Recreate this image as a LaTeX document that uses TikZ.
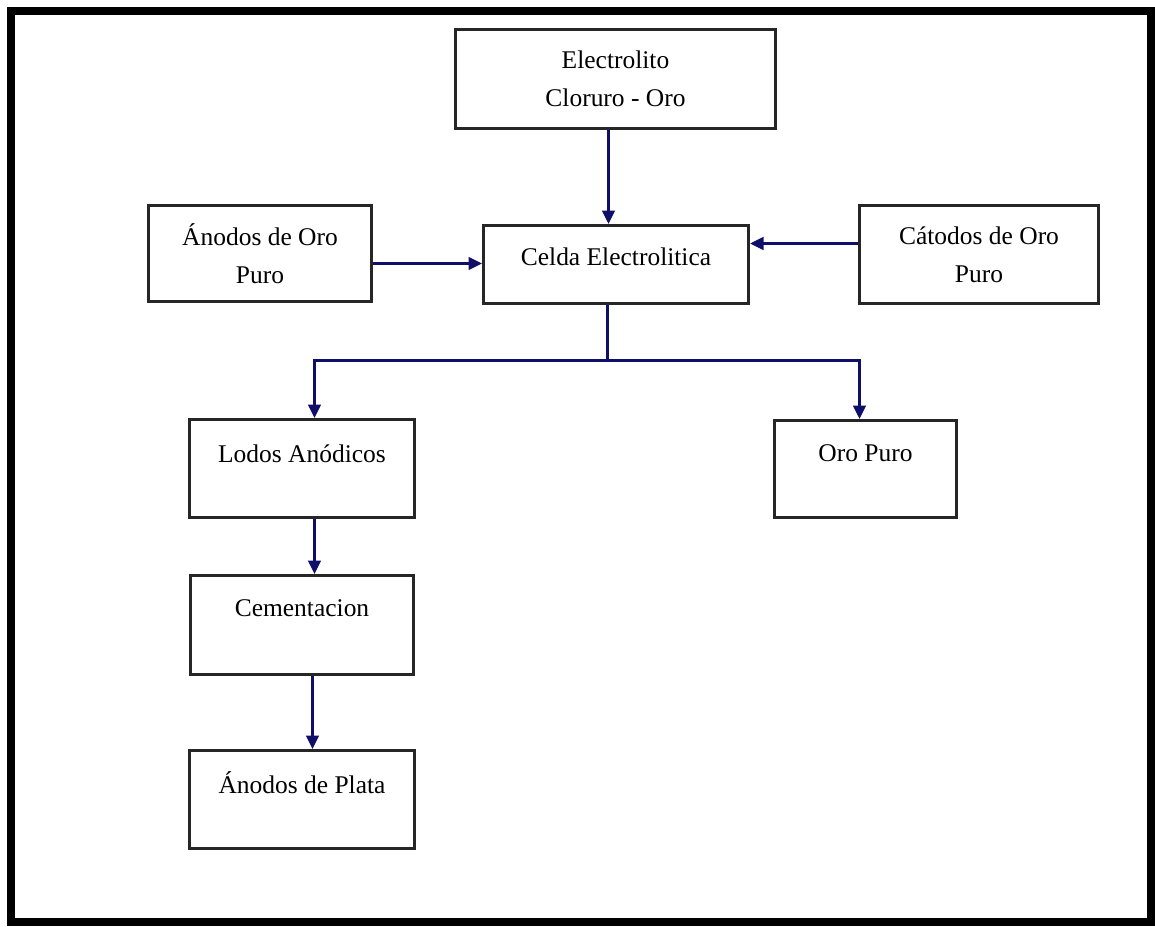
\documentclass[tikz,border=0pt]{standalone}
\usepackage{fontspec}
\setmainfont{Liberation Serif}
\usetikzlibrary{arrows.meta}

\begin{document}
\begin{tikzpicture}[x=0.02cm, y=-0.02cm,
  proc/.style={draw=black!85, line width=0.06cm, fill=white, inner xsep=0pt,
    inner ysep=0pt, anchor=north west, align=center,
    font=\fontsize{14.5}{21.6}\selectfont},
  flow/.style={draw={rgb,255:red,15;green,15;blue,105}, line width=0.06cm,
    -{Triangle[length=0.27cm,width=0.25cm]}},
  link/.style={draw={rgb,255:red,15;green,15;blue,105}, line width=0.06cm}]
  \useasboundingbox (0,0) rectangle (1155,926);

  % frame
  \draw[line width=0.16cm] (11,11) rectangle (1151,922);

  % two-line boxes, text centred
  \node[proc, minimum width=320*0.02cm, minimum height=99*0.02cm]
    (elec) at (454,28) {Electrolito\\Cloruro - Oro};
  \node[proc, minimum width=223*0.02cm, minimum height=96*0.02cm]
    (anodos) at (147,204) {Ánodos de Oro\\Puro};
  \node[proc, minimum width=239*0.02cm, minimum height=98*0.02cm]
    (catodos) at (858,204) {Cátodos de Oro\\Puro};

  % one-line boxes, text near the top
  \node[proc, minimum width=265*0.02cm, text height=40*0.02cm, text depth=38*0.02cm]
    (celda) at (482,224) {Celda Electrolitica};
  \node[proc, minimum width=225*0.02cm, text height=43*0.02cm, text depth=55*0.02cm]
    (lodos) at (188,418) {Lodos Anódicos};
  \node[proc, minimum width=182*0.02cm, text height=41*0.02cm, text depth=56*0.02cm]
    (oro) at (773,419) {Oro Puro};
  \node[proc, minimum width=223*0.02cm, text height=41*0.02cm, text depth=58*0.02cm]
    (cement) at (189,574) {Cementacion};
  \node[proc, minimum width=225*0.02cm, text height=43*0.02cm, text depth=55*0.02cm]
    (plata) at (188,749) {Ánodos de Plata};

  % connectors
  \draw[flow] ([xshift=-0.14cm]elec.south) -- ([xshift=-0.14cm]elec.south |- celda.north);
  \draw[flow] ([yshift=-0.2cm]anodos.east) -- ([yshift=-0.2cm]anodos.east -| celda.west);
  \draw[flow] ([yshift=0.22cm]catodos.west) -- ([yshift=0.22cm]catodos.west -| celda.east);

  \coordinate (split) at (607.5,360.5);
  \draw[link] (split |- celda.south) -- (split);
  \draw[flow] (split) -| ([xshift=0.25cm]lodos.north);
  \draw[flow] (split) -| ([xshift=-0.12cm]oro.north);

  \draw[flow] ([xshift=0.25cm]lodos.south) -- ([xshift=0.25cm]lodos.south |- cement.north);
  \draw[flow] ([xshift=0.21cm]cement.south) -- ([xshift=0.21cm]cement.south |- plata.north);
\end{tikzpicture}
\end{document}
